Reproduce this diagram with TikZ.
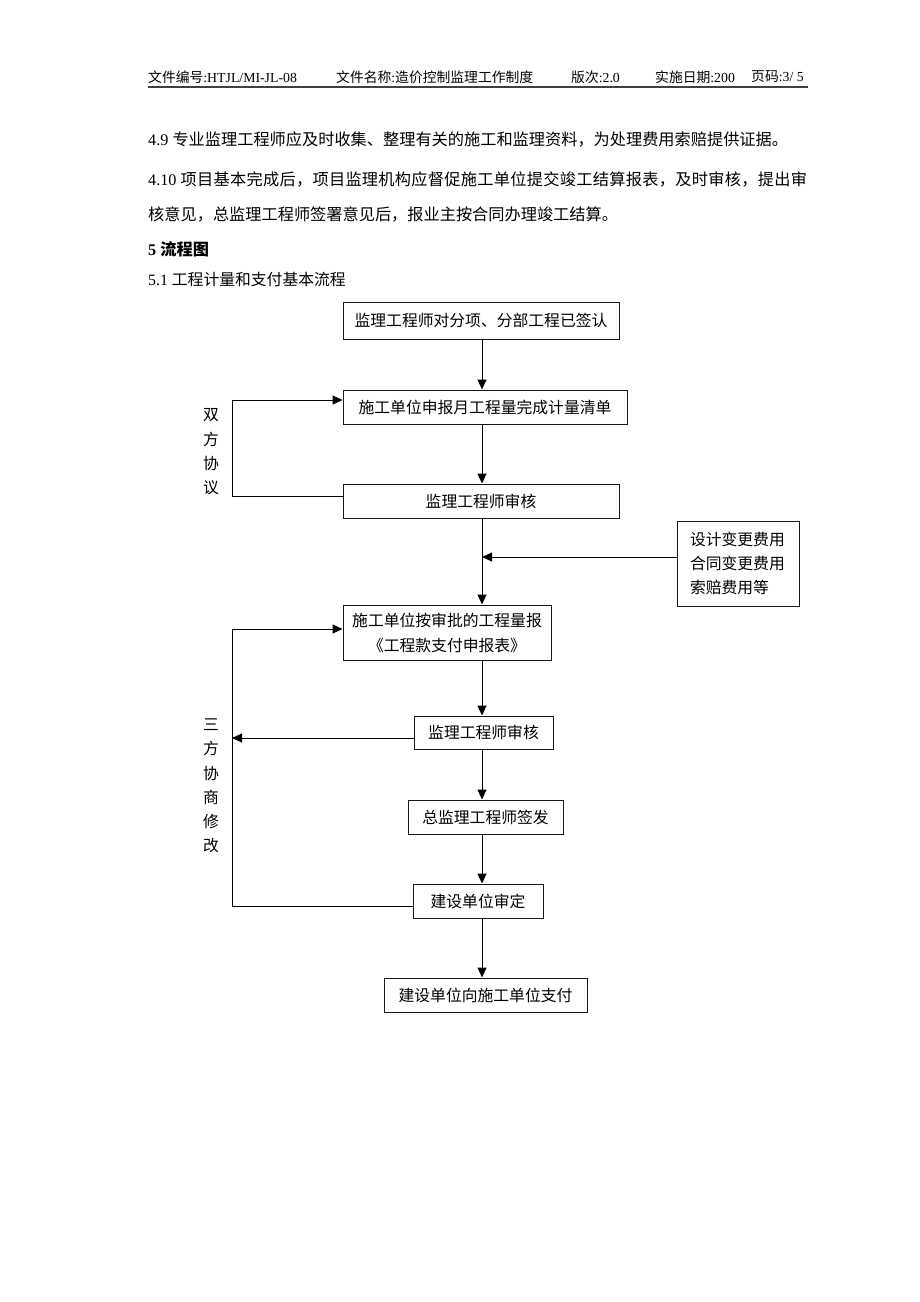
\documentclass[tikz,border=0pt]{standalone}
\usepackage{fontspec}
\setmainfont{Noto Sans CJK SC}
\newfontfamily\lat{Liberation Serif}
\usetikzlibrary{arrows.meta}
\newcommand\myfs[2]{\fontsize{#1}{#2}\selectfont}
\tikzset{
  box/.style={draw=black!90, line width=1pt, inner sep=0pt, font=\myfs{15.8}{25}, align=center},
  conn/.style={line width=1pt, -{Triangle[length=10pt,width=9pt]}},
  para/.style={anchor=west, inner sep=0pt, font=\myfs{16.2}{20}},
  hdr/.style={anchor=west, inner sep=0pt, font=\myfs{13.8}{16}},
  vlab/.style={inner sep=0pt, align=center, font=\myfs{15.8}{24.3}},
}
\begin{document}
\begin{tikzpicture}[x=1pt,y=-1pt]
\useasboundingbox (0,0) rectangle (920,1302);
\fill[white] (0,0) rectangle (920,1302);
% header
\node[hdr] (h1) at (148,77) {文件编号{\lat:HTJL/MI-JL-08}};
\node[hdr] (h2) at (336,77) {文件名称{\lat:}造价控制监理工作制度};
\node[hdr] (h3) at (571,77) {版次{\lat:2.0}};
\node[hdr] (h4) at (655,77) {实施日期{\lat:200}};
\node[hdr] (h5) at (751,77) {页码{\lat:3/ 5}};
\coordinate (hl1) at (148,87);
\coordinate (hl2) at (808,87);
\draw[line width=1.8pt, black!75] (hl1) -- (hl2);
% paragraphs
\node[para] (t1) at (148,139) {{\lat 4.9 }专业监理工程师应及时收集、整理有关的施工和监理资料，为处理费用索赔提供证据。};
\node[para] (t2) at (148,179) {\addfontfeature{LetterSpace=1.8}{\lat 4.10 }项目基本完成后，项目监理机构应督促施工单位提交竣工结算报表，及时审核，提出审};
\node[para] (t3) at (148,214) {核意见，总监理工程师签署意见后，报业主按合同办理竣工结算。};
\node[para, font=\myfs{16.2}{20}\bfseries] (t4) at (148,249) {{\lat\bfseries 5 }流程图};
\node[para, font=\myfs{15.8}{20}] (t5) at (148,280) {{\lat 5.1 }工程计量和支付基本流程};
% boxes
\node[box, minimum width=276pt, minimum height=37pt] (b1) at (481,320.5) {监理工程师对分项、分部工程已签认};
\node[box, minimum width=284pt, minimum height=34pt] (b2) at (485,407) {施工单位申报月工程量完成计量清单};
\node[box, minimum width=276pt, minimum height=34pt] (b3) at (481,501) {监理工程师审核};
\node[box, minimum width=122pt, minimum height=85pt, text width=96pt, align=left, font=\myfs{15.8}{24}] (side) at (738,563.5) {设计变更费用\\合同变更费用\\索赔费用等};
\node[box, minimum width=208pt, minimum height=55pt] (b4) at (447,632.5) {施工单位按审批的工程量报\\《工程款支付申报表》};
\node[box, minimum width=139pt, minimum height=33pt] (b5) at (483.5,732.5) {监理工程师审核};
\node[box, minimum width=155pt, minimum height=34pt] (b6) at (485.5,817) {总监理工程师签发};
\node[box, minimum width=130pt, minimum height=34pt] (b7) at (478,901) {建设单位审定};
\node[box, minimum width=203pt, minimum height=34pt] (b8) at (485.5,995) {建设单位向施工单位支付};
% side labels
\node[vlab] (lab1) at (211,452) {双\\方\\协\\议};
\node[vlab] (lab2) at (211,786) {三\\方\\协\\商\\修\\改};
% main flow
\coordinate (mx) at (482,0);
\coordinate (j1) at (482,557);
\draw[conn] (b1.south -| mx) -- (b2.north -| mx);
\draw[conn] (b2.south -| mx) -- (b3.north -| mx);
\draw[conn] (b3.south -| mx) -- (b4.north -| mx);
\draw[conn] (side.west |- j1) -- (j1);
\draw[conn] (b4.south -| mx) -- (b5.north -| mx);
\draw[conn] (b5.south -| mx) -- (b6.north -| mx);
\draw[conn] (b6.south -| mx) -- (b7.north -| mx);
\draw[conn] (b7.south -| mx) -- (b8.north -| mx);
% loop 1
\coordinate (p1) at (232,496);
\coordinate (p2) at (232,400);
\draw[conn] (b3.west |- p1) -- (p1) -- (p2) -- (b2.west |- p2);
% loop 2
\coordinate (q1) at (232,906);
\coordinate (q2) at (232,629);
\coordinate (q3) at (232,738);
\draw[conn] (b7.west |- q1) -- (q1) -- (q2) -- (b4.west |- q2);
\draw[conn] (b5.west |- q3) -- (q3);
\end{tikzpicture}
\end{document}
